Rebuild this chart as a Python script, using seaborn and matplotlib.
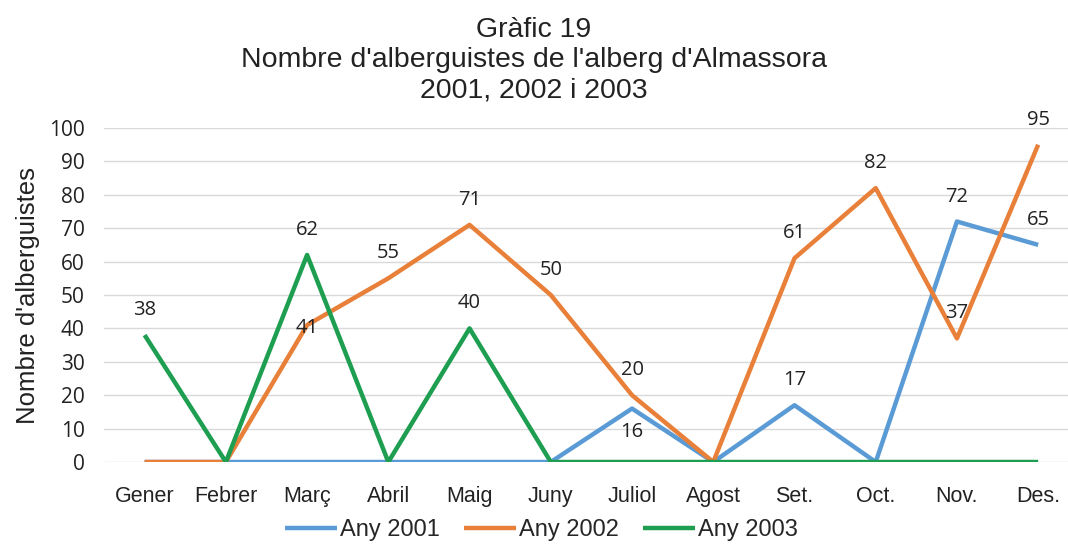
import matplotlib
matplotlib.use("Agg")
import matplotlib.pyplot as plt
import seaborn as sns
import pandas as pd

# data
mesos = ["Gener", "Febrer", "Març", "Abril", "Maig", "Juny",
         "Juliol", "Agost", "Set.", "Oct.", "Nov.", "Des."]
any_2001 = [0, 0, 0, 0, 0, 0, 16, 0, 17, 0, 72, 65]
any_2002 = [0, 0, 41, 55, 71, 50, 20, 0, 61, 82, 37, 95]
any_2003 = [38, 0, 62, 0, 40, 0, 0, 0, 0, 0, 0, 0]
series = ["Any 2001", "Any 2002", "Any 2003"]
colors = ["#5B9BD5", "#E8803A", "#1E9E50"]

df = pd.DataFrame({"mes": mesos * 3,
                   "x": list(range(12)) * 3,
                   "valor": any_2001 + any_2002 + any_2003,
                   "serie": [s for s in series for _ in mesos]})

sns.set_theme(style="white")
plt.rcParams["font.family"] = ["Liberation Sans", "DejaVu Sans"]

fig = plt.figure(figsize=(10.68, 5.46), dpi=100)
ax = fig.add_axes([104 / 1068, 1 - 462 / 546, 1 - 104 / 1068, (462 - 128) / 546])

sns.lineplot(data=df, x="x", y="valor", hue="serie", palette=colors,
             linewidth=3.2, ax=ax, legend=True, solid_capstyle="butt")

# data labels (skip zeros); a couple are placed by hand like in the original
special = {("Any 2001", 6): (0, -17), ("Any 2002", 2): (0, -2)}
for s, vals in zip(series, [any_2001, any_2002, any_2003]):
    for i, v in enumerate(vals):
        if v == 0:
            continue
        dx, dy = special.get((s, i), (0, 18))
        ax.annotate(str(v), (i, v), xytext=(dx, dy), textcoords="offset points",
                    ha="center", va="center", fontsize=14.5, color="#222222",
                    family=["Open Sans", "DejaVu Sans"])

ax.set_xlim(-0.5, (1068 - 145) / 81.2)
ax.set_ylim(0, 100)
ax.set_yticks(range(0, 101, 10))
ax.set_xticks(range(12))
ax.set_xticklabels(mesos)
ax.tick_params(axis="x", labelsize=15.5, pad=11, colors="#222222")
ax.tick_params(axis="y", labelsize=15, pad=8, colors="#222222")
for lab in ax.get_yticklabels():
    lab.set_family(["Open Sans", "DejaVu Sans"])
ax.grid(axis="y", color="#d9d9d9", linewidth=1)
for sp in ax.spines.values():
    sp.set_visible(False)
ax.set_xlabel("")
ax.set_ylabel("Nombre d'alberguistes", fontsize=18.5, color="#222222", labelpad=6)

fig.suptitle("Gràfic 19\nNombre d'alberguistes de l'alberg d'Almassora\n2001, 2002 i 2003",
             y=0.968, fontsize=20.5, linespacing=1.2, color="#222222")

ax.legend(handles=ax.get_legend().legend_handles, labels=series,
          loc="center", bbox_to_anchor=(0.454, -0.204), ncol=3,
          frameon=False, fontsize=17, handlelength=2.2, columnspacing=1.0,
          handletextpad=0.15)

fig.savefig("out.png", dpi=100)
